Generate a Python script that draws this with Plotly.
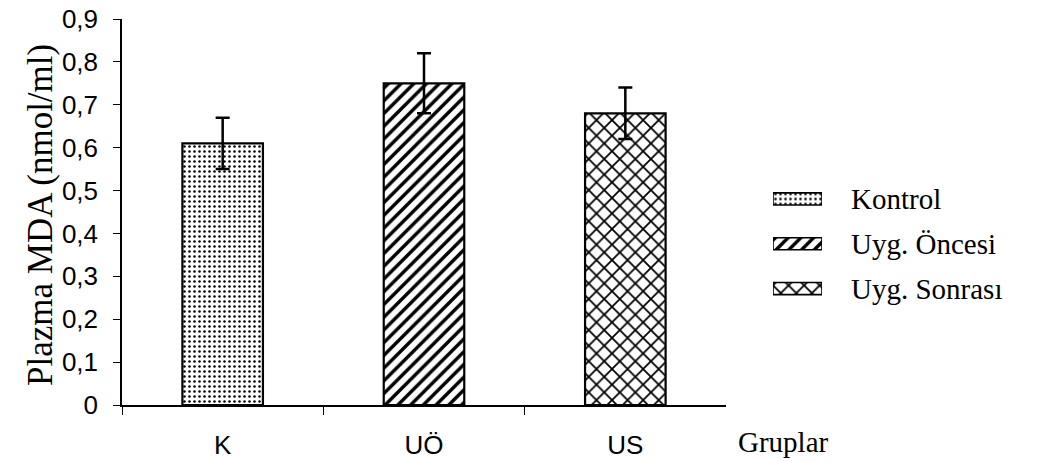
import plotly.graph_objects as go

# ---- data ----
groups = ["K", "UÖ", "US"]
legend_names = ["Kontrol", "Uyg. Öncesi", "Uyg. Sonrası"]
mda_values = [0.61, 0.75, 0.68]
mda_errors = [0.06, 0.07, 0.06]
y_tickvals = [0, 0.1, 0.2, 0.3, 0.4, 0.5, 0.6, 0.7, 0.8, 0.9]
y_ticktext = ["0", "0,1", "0,2", "0,3", "0,4", "0,5", "0,6", "0,7", "0,8", "0,9"]
y_title = "Plazma MDA (nmol/ml)"
x_title = "Gruplar"

W, H = 1040, 461
patterns = [
    dict(shape=".", size=5, solidity=0.2),
    dict(shape="/", size=9, solidity=0.38),
    dict(shape="x", size=11, solidity=0.3),
]

fig = go.Figure()
for i in range(3):
    pat = dict(fgcolor="black", bgcolor="white", fillmode="replace", **patterns[i])
    fig.add_trace(go.Bar(
        x=[groups[i]], y=[mda_values[i]], name=legend_names[i],
        width=0.4,
        marker=dict(color="white", line=dict(color="black", width=2.2), pattern=pat),
        error_y=dict(type="data", array=[mda_errors[i]], color="black", thickness=2.5, width=7),
        showlegend=False, xaxis="x", yaxis="y",
    ))
    # legend swatch drawn as horizontal bar on an auxiliary axis
    fig.add_trace(go.Bar(
        y=[legend_names[i]], x=[1], orientation="h", width=0.27,
        marker=dict(color="white", line=dict(color="black", width=1.6), pattern=pat),
        showlegend=False, xaxis="x2", yaxis="y2", hoverinfo="skip",
    ))

fig.update_layout(
    width=W, height=H,
    margin=dict(l=0, r=0, t=0, b=0, autoexpand=False),
    paper_bgcolor="white", plot_bgcolor="white",
    barmode="overlay",
    showlegend=False,
    font=dict(family="Liberation Sans, Arial", color="black"),
    xaxis=dict(
        domain=[122 / W, 726 / W], anchor="y",
        type="category", range=[-0.5, 2.5],
        showline=True, linecolor="black", linewidth=1.5,
        ticks="outside", tickson="boundaries", ticklen=8, tickwidth=1.2, tickcolor="black",
        ticklabelstandoff=16,
        tickfont=dict(family="Liberation Sans, Arial", size=26, color="black"),
        showgrid=False, zeroline=False, automargin=False,
    ),
    yaxis=dict(
        domain=[(H - 405) / H, (H - 19) / H], anchor="x",
        range=[0, 0.9],
        tickvals=y_tickvals, ticktext=y_ticktext,
        showline=True, linecolor="black", linewidth=1.5,
        ticks="outside", ticklen=7, tickwidth=1.2, tickcolor="black",
        ticklabelstandoff=10,
        tickfont=dict(family="Liberation Sans, Arial", size=26, color="black"),
        showgrid=False, zeroline=False, automargin=False,
    ),
    xaxis2=dict(
        domain=[773 / W, 822 / W], anchor="y2", range=[0, 1],
        visible=False, fixedrange=True,
    ),
    yaxis2=dict(
        domain=[(H - 311) / H, (H - 176.5) / H], anchor="x2",
        type="category", autorange="reversed", side="right",
        showline=False, ticks="", showgrid=False, zeroline=False,
        ticklabelstandoff=28, automargin=False,
        tickfont=dict(family="Liberation Serif, Times New Roman", size=29, color="black"),
    ),
    annotations=[
        dict(text=y_title, xref="paper", yref="paper", x=40 / W, y=(H - 215) / H,
             textangle=-90, showarrow=False, xanchor="center", yanchor="middle",
             font=dict(family="Liberation Serif, Times New Roman", size=35, color="black")),
        dict(text=x_title, xref="paper", yref="paper", x=736 / W, y=(H - 442) / H,
             showarrow=False, xanchor="left", yanchor="middle",
             font=dict(family="Liberation Serif, Times New Roman", size=29, color="black")),
    ],
)

fig.write_html("out.html", config={"displayModeBar": False},
               post_script="document.body.style.margin='0px';")
